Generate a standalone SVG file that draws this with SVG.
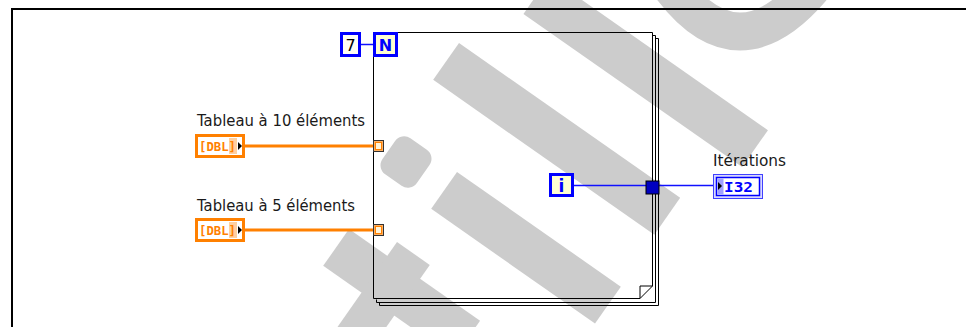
<svg xmlns="http://www.w3.org/2000/svg" width="966" height="327" viewBox="0 0 966 327">
<defs>
<style>
.wm{fill:#cccccc}
.lbl{font-family:"DejaVu Sans","Liberation Sans",sans-serif;font-size:15px;fill:#1a1a1a}
.page{fill:none;stroke:#000;stroke-width:1}
.bw{stroke:#1010ff;stroke-width:1.5;fill:none}
.ow{stroke:#ff8000;stroke-width:3;fill:none}
.bbox{stroke:#0000ff;stroke-width:3}
.btxt{font-family:"DejaVu Sans","Liberation Sans",sans-serif;font-weight:bold;fill:#0000ff}
.dbl{font-family:"DejaVu Sans Mono","Liberation Mono",monospace;font-weight:bold;font-size:12.5px;fill:#ff8000}
</style>
</defs>
<rect width="966" height="327" fill="#ffffff"/>
<g id="watermark">
<rect class="wm" x="-40" y="0" width="267" height="45" transform="translate(582,0) rotate(35)"/>
<rect class="wm" x="0" y="0" width="270" height="45" transform="translate(459,43) rotate(35)"/>
<rect class="wm" x="0" y="0" width="200" height="45" transform="translate(457,172) rotate(35)"/>
<rect class="wm" x="-21" y="-22" width="42" height="44" rx="11" transform="translate(406,162) rotate(35)"/>
<rect class="wm" x="0" y="0" width="160" height="45" transform="translate(349,229) rotate(35)"/>
<rect class="wm" x="0" y="0" width="40" height="120" transform="translate(397,242) rotate(35)"/>
<path d="M672,-12 Q738,75 812,-12" fill="none" stroke="#cccccc" stroke-width="38"/>
</g>
<g id="frame">
<path d="M12,327 V9 H966" fill="none" stroke="#000" stroke-width="2"/>
</g>
<g id="for-loop">
<path class="page" d="M655.5,38.5 H658.5 V305.5 H379.5 V302.5"/>
<path class="page" d="M652.5,35.5 H655.5 V302.5 H376.5 V299.5"/>
<path class="page" d="M373.5,32.5 H652.5 V286 L640,298.5 H373.5 Z"/>
<path class="page" d="M640,298.5 V286 H652.5"/>
</g>
<g id="connectors">
<line x1="361" y1="44.5" x2="373" y2="44.5" class="bw"/>
<line x1="245" y1="146" x2="373" y2="146" class="ow"/>
<line x1="245" y1="230" x2="373" y2="230" class="ow"/>
<line x1="574" y1="185.5" x2="646" y2="185.5" class="bw"/>
<line x1="659" y1="185.5" x2="713" y2="185.5" class="bw"/>
</g>
<g id="const-7">
<rect class="bbox" x="341.5" y="33.5" width="18" height="22" fill="#fffff4"/>
<text x="350.5" y="51" text-anchor="middle" font-family="DejaVu Sans, sans-serif" font-size="16" fill="#000">7</text>
</g>
<g id="count-N">
<rect class="bbox" x="374.5" y="33.5" width="22" height="22" fill="#ffffd2"/>
<text class="btxt" x="385.5" y="51" text-anchor="middle" font-size="16">N</text>
</g>
<g id="iter-i">
<rect class="bbox" x="550.5" y="174.5" width="22" height="21" fill="#ffffd2"/>
<text class="btxt" x="561.5" y="192" text-anchor="middle" font-size="17">i</text>
</g>
<g id="tunnel-out">
<rect x="646" y="181" width="13" height="13" fill="#0000c0" stroke="#000" stroke-width="1"/>
</g>
<g id="tunnel-in-1">
<rect x="373.5" y="140.5" width="10" height="11" fill="#ffb060" stroke="#333" stroke-width="1"/>
<rect x="375.5" y="142.5" width="6" height="7" fill="#fff4d8" stroke="#ff8000" stroke-width="1"/>
</g>
<g id="tunnel-in-2">
<rect x="373.5" y="224.5" width="10" height="11" fill="#ffb060" stroke="#333" stroke-width="1"/>
<rect x="375.5" y="226.5" width="6" height="7" fill="#fff4d8" stroke="#ff8000" stroke-width="1"/>
</g>
<g id="ctrl-10">
<text class="lbl" x="197" y="126" textLength="168" lengthAdjust="spacingAndGlyphs">Tableau à 10 éléments</text>
<rect x="196.5" y="135.5" width="47" height="21" fill="#fff" stroke="#ff8000" stroke-width="3"/>
<rect x="229" y="138" width="8" height="16" fill="#ffd0a0"/>
<text class="dbl" x="199" y="151" textLength="37" lengthAdjust="spacingAndGlyphs">[DBL]</text>
<path d="M238,142 L242,146 L238,150 Z" fill="#000"/>
</g>
<g id="ctrl-5">
<text class="lbl" x="197" y="211" textLength="158" lengthAdjust="spacingAndGlyphs">Tableau à 5 éléments</text>
<rect x="196.5" y="219.5" width="47" height="21" fill="#fff" stroke="#ff8000" stroke-width="3"/>
<rect x="229" y="222" width="8" height="16" fill="#ffd0a0"/>
<text class="dbl" x="199" y="235" textLength="37" lengthAdjust="spacingAndGlyphs">[DBL]</text>
<path d="M238,226 L242,230 L238,234 Z" fill="#000"/>
</g>
<g id="ind-iterations">
<text class="lbl" x="713" y="166" textLength="73" lengthAdjust="spacingAndGlyphs">Itérations</text>
<rect x="713.5" y="174.5" width="49" height="24" fill="#d8d8ff" stroke="#4040ff" stroke-width="1"/>
<rect x="716.5" y="177.5" width="43" height="18" fill="#fff" stroke="#0000ff" stroke-width="1.5"/>
<rect x="717.5" y="178.5" width="6" height="16" fill="#a0a0ff"/>
<path d="M718,182 L722,186 L718,190 Z" fill="#000"/>
<text x="724" y="191.5" font-family="DejaVu Sans Mono, monospace" font-weight="bold" font-size="14" fill="#0000ff" textLength="29" lengthAdjust="spacingAndGlyphs">I32</text>
</g>
</svg>
